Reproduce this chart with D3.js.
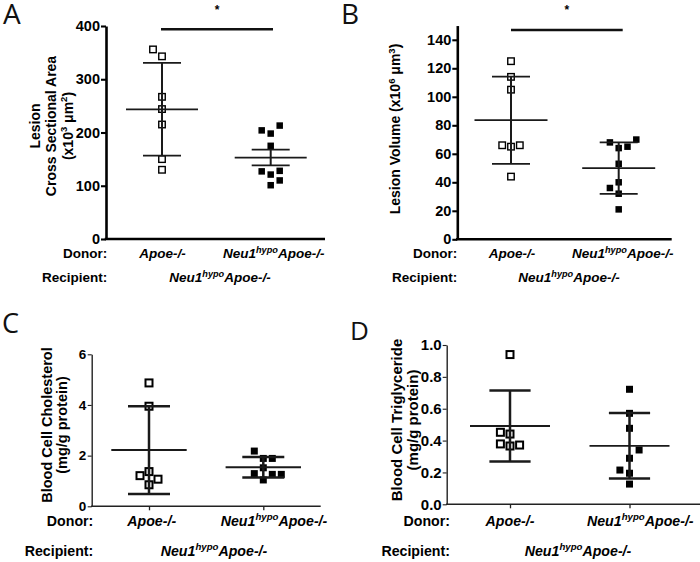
<!DOCTYPE html>
<html><head><meta charset="utf-8">
<script src="https://cdn.jsdelivr.net/npm/d3@7"></script>
<style>
body{margin:0;background:#fff}
svg text{font-family:"Liberation Sans",Arial,Helvetica,sans-serif}
</style>
</head><body>
<svg id="chart" width="700" height="562"></svg>
<script>
// ---------------- DATA ----------------
const categories = ["Apoe-/-", "Neu1<sup>hypo</sup>Apoe-/-"];
const recipientLabel = "Neu1<sup>hypo</sup>Apoe-/-";

// A: Lesion cross sectional area (x10^3 um^2)
const areaApoe      = [356, 343, 267, 244, 215, 150, 130];
const areaApoeSlot  = [-1, 0, 0, 0, 0, 0, 0];
const areaNeu1      = [204, 198, 213, 175, 127, 121, 128, 101, 110];
const areaNeu1Slot  = [-1, 0, 1, 0, -1, 0, 1, 0, 1];
const areaTicks     = [0, 100, 200, 300, 400];

// B: Lesion volume (x10^6 um^3)
const volApoe       = [125, 114, 105, 66, 65, 66, 44];
const volApoeSlot   = [0, 0, 0, -1, 0, 1, 0];
const volNeu1       = [68, 64, 65, 70, 53, 40, 36, 32, 21];
const volNeu1Slot   = [-1, 0, 1, 2, 0, 0, -1, 0, 0];
const volTicks      = [0, 20, 40, 60, 80, 100, 120, 140];

// C: Blood cell cholesterol (mg/g protein)
const cholApoe      = [4.87, 3.95, 1.37, 1.21, 1.07, 0.85];
const cholApoeSlot  = [0, 0, 0, -1, 1, 0];
const cholNeu1      = [2.18, 1.89, 1.89, 1.52, 1.29, 1.04, 1.26, 1.26];
const cholNeu1Slot  = [-1, 0, 1, 0, -1, 0, 1, 2];
const cholTicks     = [0, 2, 4, 6];

// D: Blood cell triglyceride (mg/g protein)
const trigApoe      = [0.94, 0.452, 0.441, 0.379, 0.366, 0.372];
const trigApoeSlot  = [0, -1, 0, -1, 0, 1];
const trigNeu1      = [0.722, 0.571, 0.477, 0.341, 0.289, 0.215, 0.195, 0.127];
const trigNeu1Slot  = [0, 0, 0, 1, 0, -1, 0, 0];
const trigTicks     = [0, 0.2, 0.4, 0.6, 0.8, 1.0];

// ---------------- LAYOUT ----------------
const panels = [
  { letter:"A", lx:3, ly:23.5, lfs:28,
    x0:106, x1:325, yb:239, yt:26, domain:[0,400], ticks:areaTicks, fmt:d3.format("d"),
    tfs:14.5, tlen:5, tpad:1, axW:2.6, axC:"#000", xTicks:false,
    cats:[162,270.7], capW:19, meanW:36, vW:2, capS:1.7, meanS:1.7, slotDx:9, mk:6.5, openS:1.4,
    groups:[{v:areaApoe,s:areaApoeSlot,open:true,err:"sd"},{v:areaNeu1,s:areaNeu1Slot,open:false,err:"sem"}],
    title:[{t:"Lesion",x:39.5},{t:"Cross Sectional Area",x:56},{t:"(x10<sup>3</sup> μm<sup>2</sup>)",x:72.5}], tcy:126, tfsz:14,
    dy:257.7, ry:281.7, dRight:107.3, lfs2:13.5, catDx:[0.5,3], rcx:220,
    sig:{y:29.3, a:-1, b:2.3, sy:14} },
  { letter:"B", lx:341, ly:23.5, lfs:28,
    x0:457.3, x1:671.7, yb:239.3, yt:25.55, domain:[0,150], ticks:volTicks, fmt:d3.format("d"),
    tfs:14.5, tlen:5, tpad:1, axW:2.6, axC:"#000", xTicks:false,
    cats:[511,618.7], capW:19, meanW:36.5, vW:2, capS:1.8, meanS:1.7, slotDx:8.8, mk:6.5, openS:1.4,
    groups:[{v:volApoe,s:volApoeSlot,open:true,err:"sd"},{v:volNeu1,s:volNeu1Slot,open:false,err:"sd"}],
    title:[{t:"Lesion Volume (x10<sup>6</sup> μm<sup>3</sup>)",x:400}], tcy:129, tfsz:14,
    dy:257.7, ry:281.7, dRight:457.3, lfs2:13.5, catDx:[1,4], rcx:569,
    sig:{y:30, a:0, b:4, sy:14} },
  { letter:"C", lx:2, ly:333, lfs:27,
    x0:91.7, x1:320.7, yb:506.3, yt:354.3, domain:[0,6], ticks:cholTicks, fmt:d3.format("d"),
    tfs:13.5, tlen:4, tpad:1.5, axW:1.4, axC:"#222", xTicks:true,
    cats:[149,263.3], capW:21, meanW:37.7, vW:2.5, capS:2.5, meanS:2, slotDx:9, mk:7, openS:2,
    groups:[{v:cholApoe,s:cholApoeSlot,open:true,err:"sd"},{v:cholNeu1,s:cholNeu1Slot,open:false,err:"sd"}],
    title:[{t:"Blood Cell Cholesterol",x:51.5},{t:"(mg/g protein)",x:66.5}], tcy:425, tfsz:14.5,
    dy:525.5, ry:555.5, dRight:93.3, lfs2:14.2, catDx:[2.7,10.7], rcx:214, sig:null },
  { letter:"D", lx:350, ly:340, lfs:26,
    x0:446.7, x1:700, yb:504.3, yt:345, domain:[0,1], ticks:trigTicks, fmt:d3.format(".1f"),
    tfs:15, tlen:4, tpad:1, axW:1.4, axC:"#222", xTicks:true,
    cats:[510,629.5], capW:20.6, meanW:40, vW:2.5, capS:2.5, meanS:1.8, slotDx:9.6, mk:7, openS:2,
    groups:[{v:trigApoe,s:trigApoeSlot,open:true,err:"sd"},{v:trigNeu1,s:trigNeu1Slot,open:false,err:"sd"}],
    title:[{t:"Blood Cell Triglyceride",x:402},{t:"(mg/g protein)",x:417.5}], tcy:420, tfsz:15,
    dy:525.5, ry:555.5, dRight:450, lfs2:14.2, catDx:[0,10.8], rcx:578, sig:null }
];

// ---------------- RENDER ----------------
const svg = d3.select("#chart");

function rich(textSel, str, fs) {
  const parts = str.split(/(<sup>.*?<\/sup>)/).filter(s => s.length);
  let raised = false;
  parts.forEach(p => {
    const m = p.match(/^<sup>(.*)<\/sup>$/);
    if (m) {
      textSel.append("tspan").attr("font-size", fs*0.68).attr("dy", -fs*0.38).text(m[1]);
      raised = true;
    } else {
      const t = textSel.append("tspan").text(p);
      if (raised) { t.attr("dy", fs*0.38); raised = false; }
    }
  });
}

panels.forEach(p => {
  const g = svg.append("g");
  const y = d3.scaleLinear().domain(p.domain).range([p.yb, p.yt]);
  const x = d3.scalePoint().domain(categories).range(p.cats);

  // panel letter
  g.append("text").attr("x", p.lx).attr("y", p.ly)
    .style("font-family", "'Open Sans','Noto Sans',sans-serif")
    .attr("font-size", p.lfs).attr("fill", "#111").text(p.letter);

  // y axis
  const ya = g.append("g").attr("transform", `translate(${p.x0},0)`)
    .call(d3.axisLeft(y).tickValues(p.ticks).tickFormat(p.fmt)
      .tickSize(p.tlen).tickSizeOuter(0).tickPadding(p.tpad));
  ya.select(".domain").attr("stroke", p.axC).attr("stroke-width", p.axW);
  ya.selectAll(".tick line").attr("stroke", p.axC).attr("stroke-width", p.axW*0.8);
  ya.selectAll(".tick text")
    .style("font-size", p.tfs + "px").style("font-weight", "700")
    .style("font-family", "'Liberation Sans',Arial,sans-serif")
    .attr("fill", "#000");

  // x axis line
  g.append("line").attr("x1", p.x0 - p.axW/2).attr("x2", p.x1)
    .attr("y1", p.yb).attr("y2", p.yb).attr("stroke", p.axC).attr("stroke-width", p.axW);
  if (p.xTicks) {
    const xa = g.append("g").attr("transform", `translate(0,${p.yb})`)
      .call(d3.axisBottom(x).tickSize(4).tickFormat(""));
    xa.select(".domain").remove();
    xa.selectAll(".tick line").attr("stroke", p.axC).attr("stroke-width", 1.3);
  }

  // groups
  p.groups.forEach((gr, i) => {
    const cx = x(categories[i]);
    const m = d3.mean(gr.v), sd = d3.deviation(gr.v);
    const e = gr.err === "sem" ? sd / Math.sqrt(gr.v.length) : sd;
    const col = "#1a1a1a";
    // points
    g.selectAll(null).data(gr.v.map((v, k) => ({v, s: gr.s[k]}))).join("rect")
      .attr("x", d => cx + d.s * p.slotDx - p.mk/2)
      .attr("y", d => y(d.v) - p.mk/2)
      .attr("width", p.mk).attr("height", p.mk)
      .attr("fill", gr.open ? "none" : "#000")
      .attr("stroke", "#000").attr("stroke-width", gr.open ? p.openS : 0);
    // vertical error line
    g.append("line").attr("x1", cx).attr("x2", cx).attr("y1", y(m + e)).attr("y2", y(m - e))
      .attr("stroke", col).attr("stroke-width", p.vW);
    // caps
    [m + e, m - e].forEach(val => {
      g.append("line").attr("x1", cx - p.capW).attr("x2", cx + p.capW)
        .attr("y1", y(val)).attr("y2", y(val)).attr("stroke", col).attr("stroke-width", p.capS);
    });
    // mean
    g.append("line").attr("x1", cx - p.meanW).attr("x2", cx + p.meanW)
      .attr("y1", y(m)).attr("y2", y(m)).attr("stroke", col).attr("stroke-width", p.meanS);

    // category label
    const t = g.append("text").attr("x", cx + p.catDx[i]).attr("y", p.dy)
      .attr("text-anchor", "middle").attr("font-size", p.lfs2)
      .style("font-weight", "700").style("font-style", "italic").attr("fill", "#000");
    rich(t, categories[i], p.lfs2);
  });

  // donor / recipient labels
  g.append("text").attr("x", p.dRight).attr("y", p.dy).attr("text-anchor", "end")
    .attr("font-size", p.lfs2).style("font-weight", "700").attr("fill", "#000").text("Donor:");
  g.append("text").attr("x", p.dRight).attr("y", p.ry).attr("text-anchor", "end")
    .attr("font-size", p.lfs2).style("font-weight", "700").attr("fill", "#000").text("Recipient:");
  const rt = g.append("text").attr("x", p.rcx).attr("y", p.ry).attr("text-anchor", "middle")
    .attr("font-size", p.lfs2).style("font-weight", "700").style("font-style", "italic").attr("fill", "#000");
  rich(rt, recipientLabel, p.lfs2);

  // y title
  p.title.forEach(l => {
    const t = g.append("text").attr("transform", `translate(${l.x},${p.tcy}) rotate(-90)`)
      .attr("text-anchor", "middle").attr("font-size", p.tfsz).style("font-weight", "700").attr("fill", "#000");
    rich(t, l.t, p.tfsz);
  });

  // significance bar
  if (p.sig) {
    const a = x(categories[0]) + p.sig.a, b = x(categories[1]) + p.sig.b;
    g.append("line").attr("x1", a).attr("x2", b).attr("y1", p.sig.y).attr("y2", p.sig.y)
      .attr("stroke", "#111").attr("stroke-width", 2.6);
    g.append("text").attr("x", (a + b) / 2).attr("y", p.sig.sy).attr("text-anchor", "middle")
      .attr("font-size", 12).style("font-weight", "700").attr("fill", "#000").text("*");
  }
});
</script>
</body></html>
